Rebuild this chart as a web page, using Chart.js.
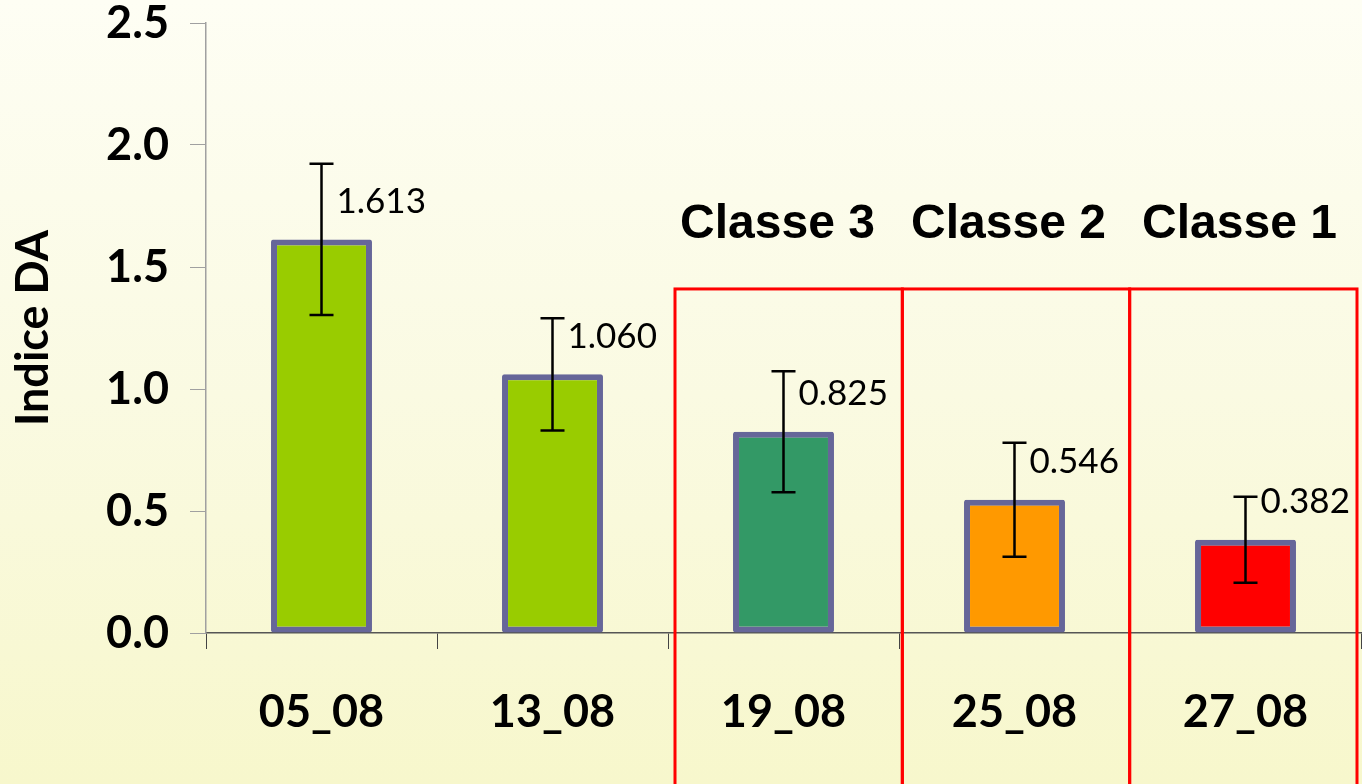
<!DOCTYPE html>
<html>
<head>
<meta charset="utf-8">
<script src="https://cdn.jsdelivr.net/npm/chart.js@4.4.0/dist/chart.umd.min.js"></script>
<style>
  html, body { margin: 0; padding: 0; }
  body { width: 1362px; height: 784px; overflow: hidden;
         background: linear-gradient(to bottom, rgb(254,254,244) 0%, rgb(250,250,226) 50%, rgb(247,247,204) 100%); }
  #wrap { position: relative; width: 1362px; height: 784px; }
</style>
</head>
<body>
<div id="wrap"><canvas id="c" width="1362" height="784"></canvas></div>
<script>
const categories = ["05_08", "13_08", "19_08", "25_08", "27_08"];
const values = [1.613, 1.060, 0.825, 0.546, 0.382];
const errors = [0.31, 0.23, 0.248, 0.234, 0.176];
const classLabels = ["", "", "Classe 3", "Classe 2", "Classe 1"];
const barColors = ["#99cc00", "#99cc00", "#339966", "#ff9900", "#ff0000"];
const yTicks = [0, 0.5, 1.0, 1.5, 2.0, 2.5];

const overlay = {
  id: 'overlay',
  afterDatasetsDraw(chart) {
    const ctx = chart.ctx;
    const xs = chart.scales.x, ys = chart.scales.y;
    const meta = chart.getDatasetMeta(0);
    const cw = xs.getPixelForValue(1) - xs.getPixelForValue(0);
    ctx.save();
    // error bars
    ctx.strokeStyle = '#000';
    ctx.lineWidth = 2.5;
    meta.data.forEach((bar, i) => {
      const yt = ys.getPixelForValue(values[i] + errors[i]);
      const yb = ys.getPixelForValue(values[i] - errors[i]);
      ctx.beginPath();
      ctx.moveTo(bar.x, yt); ctx.lineTo(bar.x, yb);
      ctx.moveTo(bar.x - 12, yt); ctx.lineTo(bar.x + 12, yt);
      ctx.moveTo(bar.x - 12, yb); ctx.lineTo(bar.x + 12, yb);
      ctx.stroke();
    });
    // value labels
    ctx.fillStyle = '#000';
    ctx.font = '35px Lato';
    ctx.textAlign = 'left';
    ctx.textBaseline = 'middle';
    meta.data.forEach((bar, i) => {
      ctx.fillText(values[i].toFixed(3), bar.x + 15, bar.y - 38);
    });
    // class boxes
    const idx = classLabels.map((l, i) => l ? i : -1).filter(i => i >= 0);
    const L = xs.getPixelForValue(idx[0]) - cw / 2 + 7;
    const R = xs.getPixelForValue(idx[idx.length - 1]) + cw / 2 - 4;
    const w = (R - L) / idx.length;
    const top = ys.getPixelForValue(1.41);
    ctx.strokeStyle = '#ff0000';
    ctx.lineWidth = 3;
    idx.forEach((ci, k) => {
      ctx.strokeRect(L + k * w, top, w, chart.height + 10 - top);
    });
    // class labels
    ctx.font = 'bold 48px "Liberation Sans", Arial';
    ctx.textAlign = 'center';
    ctx.textBaseline = 'middle';
    const ly = ys.getPixelForValue(1.672);
    idx.forEach((ci) => {
      ctx.fillText(classLabels[ci], xs.getPixelForValue(ci) - 6, ly);
    });
    ctx.restore();
  }
};

new Chart(document.getElementById('c'), {
  type: 'bar',
  data: {
    labels: categories,
    datasets: [{
      data: values,
      backgroundColor: barColors,
      borderColor: '#666699',
      borderWidth: 6,
      borderSkipped: false,
      borderRadius: 2,
      barPercentage: 0.437,
      categoryPercentage: 1.0
    }]
  },
  options: {
    responsive: false,
    animation: false,
    events: [],
    layout: { padding: { top: 0, right: 1, left: 0, bottom: 0 } },
    plugins: { legend: { display: false }, tooltip: { enabled: false } },
    scales: {
      x: {
        offset: true,
        grid: { display: true, drawOnChartArea: false, drawTicks: true, tickLength: 16, color: '#444', offset: true },
        border: { display: true, color: '#555', width: 1.5 },
        ticks: { color: '#000', font: { family: 'Lato', weight: 'bold', size: 45 }, padding: 36, maxRotation: 0 },
        afterFit(scale) { scale.height = 151; }
      },
      y: {
        min: 0, max: 2.5,
        afterBuildTicks(scale) { scale.ticks = yTicks.map(v => ({ value: v })); },
        grid: { display: true, drawOnChartArea: false, drawTicks: true, tickLength: 16, color: '#a0a0a0' },
        border: { display: true, color: '#a0a0a0', width: 1.5 },
        ticks: { color: '#000', font: { family: 'Lato', weight: 'bold', size: 45, lineHeight: 1.0 }, padding: 21,
                 callback: (v) => Number(v).toFixed(1) },
        title: { display: true, text: 'Indice DA', color: '#000', font: { family: 'Lato', weight: 'bold', size: 45 }, padding: { top: 6, bottom: 0 } },
        afterFit(scale) { scale.width = 206; scale.paddingTop = 23; scale.paddingBottom = 0; }
      }
    }
  },
  plugins: [overlay]
});
</script>
</body>
</html>
